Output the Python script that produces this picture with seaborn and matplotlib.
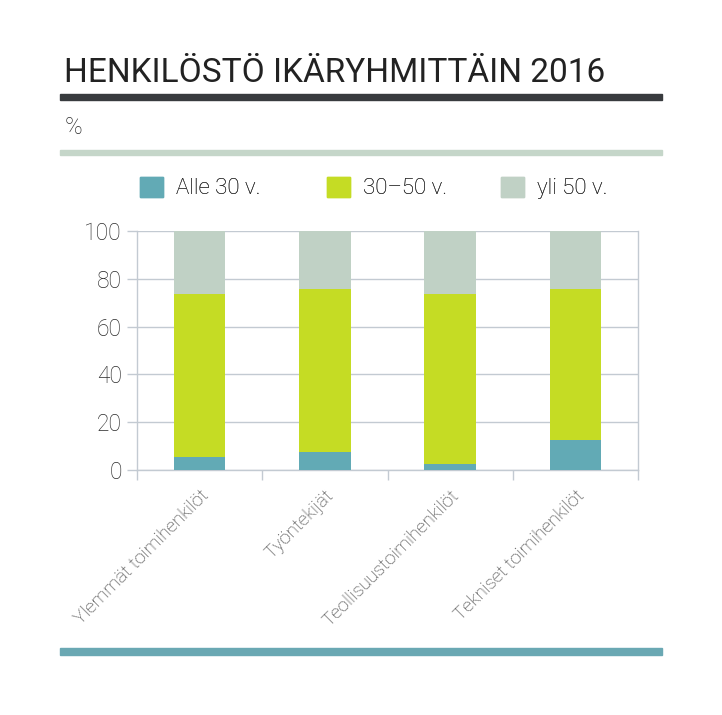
import matplotlib
matplotlib.use("Agg")
import matplotlib.pyplot as plt
import matplotlib.patches as mpatches
import seaborn as sns

# ── data ─────────────────────────────────────────────────────────────
CATEGORIES = ["Ylemmät toimihenkilöt", "Työntekijät",
              "Teollisuustoimihenkilöt", "Tekniset toimihenkilöt"]
SERIES = ["Alle 30 v.", "30–50 v.", "yli 50 v."]
UNDER_30 = [5.5, 7.6, 2.6, 12.6]
MID_30_50 = [68.1, 68.1, 71.0, 63.1]
OVER_50 = [26.4, 24.3, 26.4, 24.3]
Y_TICKS = [0, 20, 40, 60, 80, 100]

COLORS = ["#62aab5", "#c5dc24", "#c0d1c5"]
GRID = "#c3cad2"
TEXT = "#2a2a2a"

sns.set_theme(style="white")
plt.rcParams["font.family"] = ["Roboto", "DejaVu Sans"]
plt.rcParams["font.weight"] = "light"

fig = plt.figure(figsize=(7.22, 7.15), dpi=100)
W, H = 722, 715


def fx(px):
    return px / W


def fy(py):
    return 1 - py / H


# header / footer rules
fig.patches.append(mpatches.Rectangle((fx(60), fy(100)), fx(602), 6 / H,
                                      transform=fig.transFigure, color="#383b3e"))
fig.patches.append(mpatches.Rectangle((fx(60), fy(155)), fx(602), 5 / H,
                                      transform=fig.transFigure, color="#c5d6c9"))
fig.patches.append(mpatches.Rectangle((fx(60), fy(655)), fx(602), 7 / H,
                                      transform=fig.transFigure, color="#6aa8b3"))

fig.text(fx(64), fy(73), "HENKILÖSTÖ IKÄRYHMITTÄIN 2016", fontsize=24,
         color="#222222", va="center", ha="left", fontweight="normal")
fig.text(fx(65), fy(127), "%", fontsize=17, color=TEXT, va="center", ha="left")

ax = fig.add_axes([fx(137), fy(470), fx(638 - 137), (470 - 231) / H])

low = UNDER_30
mid = [a + b for a, b in zip(UNDER_30, MID_30_50)]
top = [a + b for a, b in zip(mid, OVER_50)]

# stacked bars drawn as cumulative totals, tallest first
for vals, col in zip([top, mid, low], COLORS[::-1]):
    sns.barplot(x=CATEGORIES, y=vals, color=col, width=0.41,
                saturation=1, ax=ax, zorder=3, linewidth=0)

ax.set_ylim(0, 100)
ax.set_xlim(-0.5, 3.5)
ax.set_yticks(Y_TICKS)
ax.set_yticklabels([str(t) for t in Y_TICKS], fontsize=16.5, color=TEXT)
ax.yaxis.grid(True, color=GRID, lw=1, zorder=0)
ax.tick_params(axis="y", length=7, color=GRID, width=1, pad=4, left=True)

ax.set_xticks(range(len(CATEGORIES)))
ax.set_xticklabels(CATEGORIES, rotation=45, ha="right", rotation_mode="anchor",
                   fontsize=13.5, color="#3a3a3a")
ax.tick_params(axis="x", length=0, pad=12)
ax.set_xticks([-0.5, 0.5, 1.5, 2.5, 3.5], minor=True)
ax.tick_params(axis="x", which="minor", length=7, color=GRID, width=1,
               bottom=True)

for side in ["left", "right", "bottom"]:
    ax.spines[side].set_visible(True)
    ax.spines[side].set_color(GRID)
    ax.spines[side].set_linewidth(1)
ax.spines["top"].set_visible(False)
ax.set_xlabel("")
ax.set_ylabel("")

# legend: one entry per slot so each sits where the reference has it
for c, s, x0 in zip(COLORS, SERIES, [140, 327, 501]):
    leg = fig.legend(handles=[mpatches.Patch(color=c, label=s)],
                     loc="center left", frameon=False,
                     bbox_to_anchor=(fx(x0), fy(188)), fontsize=16,
                     handlelength=1.05, handleheight=1.05,
                     handletextpad=0.55, labelcolor=TEXT, borderaxespad=0,
                     borderpad=0)
    fig.add_artist(leg)

fig.savefig("out.png", dpi=100)
